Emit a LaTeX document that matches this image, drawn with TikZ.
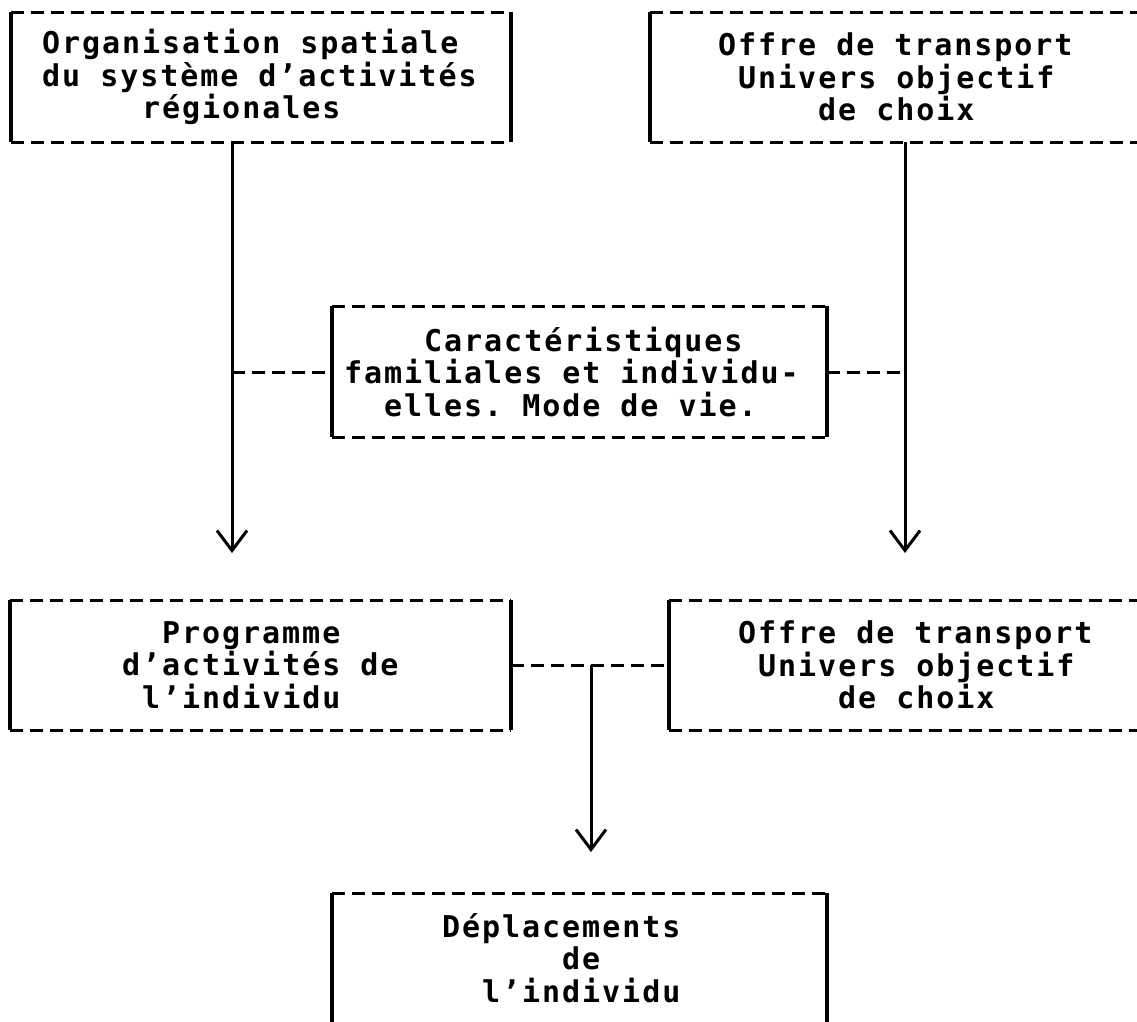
\documentclass[tikz,border=0pt]{standalone}
\usepackage{fontspec}
\setmonofont[LetterSpace=6.5]{DejaVu Sans Mono}
\usetikzlibrary{arrows.meta}
\tikzset{
  txt/.style={font=\ttfamily\bfseries\fontsize{30}{32.5}\selectfont, align=left, inner sep=0pt, anchor=west},
  hdash/.style={dash pattern=on 13pt off 7pt, line width=3pt},
  side/.style={line width=3.4pt},
  conn/.style={dash pattern=on 13pt off 7pt, line width=3pt},
  arr/.style={line width=3pt, -{Straight Barb[length=20pt, width=30pt, line width=3pt]}},
}
\newcommand{\ind}[1]{\hspace*{#1pt}}
\newcommand{\mybox}[5]{% name, x1, y1, x2, y2
  \coordinate (#1-nw) at (#2,#3);
  \coordinate (#1-se) at (#4,#5);
  \draw[hdash] (#2,#3) -- (#4,#3);
  \draw[hdash] (#2,#5) -- (#4,#5);
  \draw[side] (#2,#3) -- (#2,#5);
  \draw[side] (#4,#3) -- (#4,#5);
}
\begin{document}
\begin{tikzpicture}[x=1pt,y=-1pt]
\useasboundingbox (0,0) rectangle (1137,1021);
% boxes
\mybox{b1}{11}{12}{511}{142}
\mybox{b2}{650}{12}{1150}{142}
\mybox{b3}{332}{306}{827}{437}
\mybox{b4}{10}{600}{511}{730}
\mybox{b5}{669}{600}{1150}{730}
\mybox{b6}{332}{893}{827}{1040}
% texts
\node[txt] (t1) at (42,77) {Organisation spatiale\\du système d’activités\\\ind{100}régionales};
\node[txt] (t2) at (718,77) {Offre de transport\\\ind{20}Univers objectif\\\ind{100}de choix};
\node[txt] (t3) at (344,372) {\ind{80}Caractéristiques\\familiales et individu-\\\ind{40}elles. Mode de vie.};
\node[txt] (t4) at (122,665) {\ind{40}Programme\\d’activités de\\\ind{20}l’individu};
\node[txt] (t5) at (738,665) {Offre de transport\\\ind{20}Univers objectif\\\ind{100}de choix};
\node[txt] (t6) at (442,958) {Déplacements\\\ind{120}de\\\ind{40}l’individu};
% anchor coordinates
\coordinate (s1) at (232,142);
\coordinate (e1) at (232,553);
\coordinate (s2) at (905,142);
\coordinate (e2) at (905,553);
\coordinate (j1) at (232,372);
\coordinate (j2) at (905,372);
\coordinate (c3l) at (332,372);
\coordinate (c3r) at (827,372);
\coordinate (c4) at (511,665);
\coordinate (c5) at (669,665);
\coordinate (jt) at (591,665);
\coordinate (e3) at (591,852);
% connectors
\draw[arr] (s1) -- (e1);
\draw[arr] (s2) -- (e2);
\draw[conn] (j1) -- (c3l);
\draw[conn] (c3r) -- (j2);
\draw[conn] (c4) -- (c5);
\draw[arr] (jt) -- (e3);
\end{tikzpicture}
\end{document}
